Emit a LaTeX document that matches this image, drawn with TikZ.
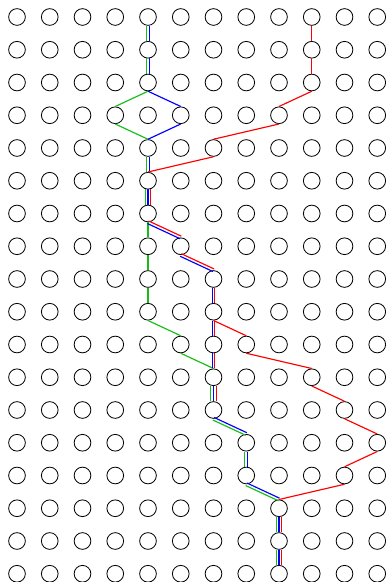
\documentclass[tikz,border=0pt]{standalone}
\usepackage{tikz}
\usetikzlibrary{positioning,calc}
\usepackage{xcolor}
\definecolor{routegreen}{RGB}{20,190,20}
\definecolor{routeblue}{RGB}{0,0,255}
\definecolor{routered}{RGB}{255,0,0}

\begin{document}
\begin{tikzpicture}[dot/.style={circle,draw,line width=0.7pt,minimum size=0.51cm,inner sep=0pt}]
  \useasboundingbox (-0.519,-17.252) rectangle (11.267,0.519);
  \foreach \i in {0,...,11} {
    \foreach \j in {0,...,17} {
      \node[dot] (c\i-\j) at (\i,-\j) {};
    }
  }
  % routes as node/lane pairs, lane = side shift of the stretch into that node
  \foreach \clr/\route in {
      routegreen/{4-0/0,4-1/-1,4-2/-1,3-3/0,4-4/0,4-5/-1,4-6/-2,4-7/0,4-8/0,4-9/0,5-10/0,6-11/0,6-12/-2,7-13/-1,7-14/-1,8-15/-1,8-16/-2,8-17/-2},
      routeblue/{4-0/0,4-1/1,4-2/1,5-3/0,4-4/0,4-5/1,4-6/0,5-7/-1,6-8/-1,6-9/-1,6-10/-1,6-11/-1,6-12/0,7-13/1,7-14/1,8-15/1,8-16/0,8-17/0},
      routered/{9-0/0,9-1/0,9-2/0,8-3/0,6-4/0,4-5/0,4-6/2,5-7/1,6-8/1,6-9/1,7-10/0,9-11/0,10-12/0,11-13/0,10-14/0,8-15/0,8-16/2,8-17/2},
      routered/{6-9/0,6-10/1,6-11/1,6-12/2}} {
    \foreach \p/\s [count=\k, remember=\p as \q] in \route {
      \ifnum\k>1
        \pgfmathsetmacro\off{\s*0.043}
        \draw[\clr,line width=1pt] ($(c\q.south)!\off cm!90:(c\p.north)$) -- ($(c\p.north)!\off cm!-90:(c\q.south)$);
      \fi
    }
  }
\end{tikzpicture}
\end{document}
